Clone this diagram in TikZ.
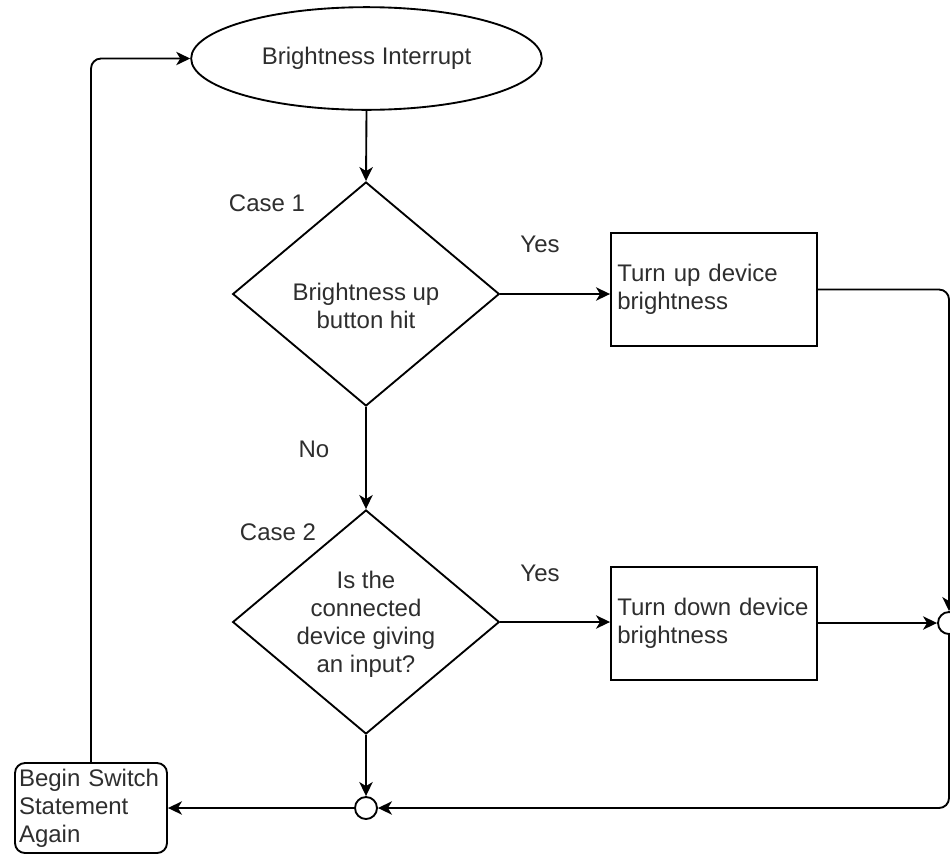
\documentclass[tikz,border=0pt]{standalone}
\usepackage{fontspec}
\setmainfont{Liberation Sans}
\usetikzlibrary{shapes.geometric,arrows.meta}
\definecolor{txt}{HTML}{2E2E2E}
\tikzset{
  base/.style={draw=black, line width=1.4pt, inner sep=0pt},
  lbl/.style={font={\fontsize{18}{21}\selectfont\hyphenpenalty=10000\relax}, text=txt, inner sep=0pt},
  ovalbox/.style={base, ellipse, minimum width=263pt, minimum height=77pt},
  decision/.style={base, diamond, minimum width=200pt, minimum height=168pt},
  actionbox/.style={base, rectangle, minimum width=154.5pt, minimum height=84.75pt,
    text width=145pt, inner xsep=4.75pt, align=left, lbl},
  restartbox/.style={base, rectangle, rounded corners=7.5pt, minimum width=114pt,
    minimum height=67.5pt, text width=108pt, inner xsep=3pt, align=left, lbl},
  joint/.style={base, circle, fill=white, minimum size=16.5pt},
  flow/.style={line width=1.4pt, -{Stealth[length=10.5pt, width=10pt, inset=3pt]}},
}
\begin{document}
\begin{tikzpicture}[x=0.75pt, y=-0.75pt]
\useasboundingbox (0,0) rectangle (950,854);

% shapes
\node[ovalbox, lbl] (start) at (366.5,58.5) {Brightness Interrupt};
\node[decision] (d1) at (366,294) {};
\node[lbl, align=center] (d1t) at (366,306) {Brightness up\\button hit};
\node[decision] (d2) at (366,622) {};
\node[lbl, align=center] (d2t) at (366,624) {Is the\\connected\\device giving\\an input?};
\node[actionbox] (r1) at (714,289.5) {Turn up device\\brightness};
\node[actionbox] (r2) at (714,623.5) {Turn down device\\brightness};
\node[joint] (c1) at (366,808) {};
\node[joint] (c2) at (949,623) {};
\node[restartbox] (again) at (91,808) {Begin Switch\\Statement\\Again};

% labels
\node[lbl] (case1) at (267,203) {Case 1};
\node[lbl] (case2) at (278,532) {Case 2};
\node[lbl] (yes1) at (540,244) {Yes};
\node[lbl] (yes2) at (540,573) {Yes};
\node[lbl] (no1) at (314,449) {No};

% connectors
\draw[flow] (start.south) -- (d1.north);
\draw[flow] (d1.east) -- (d1.east -| r1.west);
\draw[flow] (d1.south) -- (d2.north);
\draw[flow] (d2.east) -- (d2.east -| r2.west);
\draw[flow] (d2.south) -- (c1.north);
\draw[flow, rounded corners=7.5pt] (r1.east) -| (c2.north);
\draw[flow] (c2.west -| r2.east) -- (c2.west);
\draw[flow, rounded corners=7.5pt] (c2.south) |- (c1.east);
\draw[flow] (c1.west) -- (again.east);
\draw[flow, rounded corners=7.5pt] (again.north) |- (start.west);
\end{tikzpicture}
\end{document}
